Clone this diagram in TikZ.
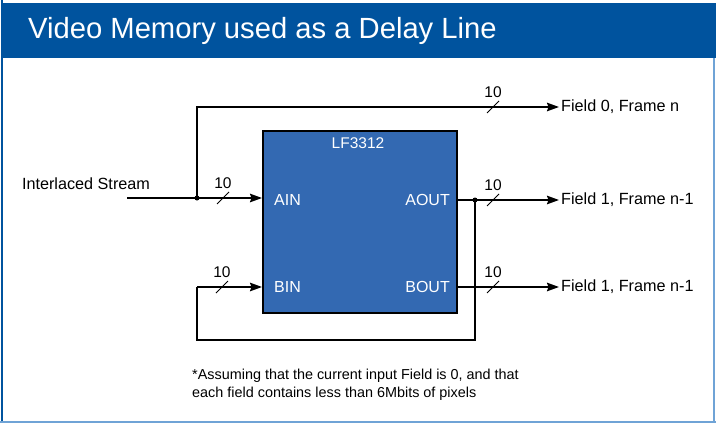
\documentclass[tikz,border=0pt]{standalone}
\usepackage{fontspec}
\setmainfont{Liberation Sans}
\usetikzlibrary{arrows.meta, positioning}

\definecolor{barblue}{RGB}{0,83,158}
\definecolor{chipblue}{RGB}{51,105,178}
\definecolor{edgeblue}{RGB}{111,163,214}

\begin{document}
\begin{tikzpicture}[
    x=1pt, y=-1pt,
    wire/.style={line width=1.8pt, line join=miter},
    bus/.style={wire, -{Stealth[length=12pt, width=8.5pt, inset=1.5pt]}},
    port/.style={text=white, font=\fontsize{16}{18}\selectfont, inner sep=0pt},
    lbl/.style={font=\fontsize{16.2}{18}\selectfont, inner sep=2pt},
    width/.style={font=\fontsize{15.5}{17}\selectfont, inner sep=0pt},
    junction/.style={circle, fill, inner sep=0pt, minimum size=5pt}
]
\useasboundingbox (0,0) rectangle (716,423);

% frame and title
\fill[barblue] (1,3) rectangle (716,58);
\draw[line width=2.5pt, barblue] (2,0) -- (2,423);
\draw[line width=1.5pt, edgeblue] (714,58) -- (714,423);
\draw[line width=2.5pt, edgeblue] (0,422) -- (716,422);
\node[anchor=west, text=white, font=\fontsize{29.2}{32}\selectfont, inner sep=0pt] (title) at (28,31) {Video Memory used as a Delay Line};

% memory chip
\node[draw, line width=2pt, fill=chipblue, minimum width=194pt, minimum height=182pt, inner sep=0pt] (chip) at (360,222) {};
\node[port, font=\fontsize{15.5}{17}\selectfont] (name) at (358,143) {LF3312};
\node[port, anchor=west] (ain) at (274,200) {AIN};
\node[port, anchor=east] (aout) at (450,200) {AOUT};
\node[port, anchor=west] (bin) at (274,287) {BIN};
\node[port, anchor=east] (bout) at (450,287) {BOUT};

% outside labels
\node[lbl] (src) at (86,184) {Interlaced Stream};
\node[lbl, anchor=west] (f0) at (559,107) {Field 0, Frame n};
\node[lbl, anchor=west] (f1a) at (559,200) {Field 1, Frame n-1};
\node[lbl, anchor=west] (f1b) at (559,287) {Field 1, Frame n-1};

\coordinate (in) at (127,198);
\coordinate (split) at (197,198);
\coordinate (tap) at (475,200);
\coordinate (loopr) at (475,340);
\coordinate (loopl) at (197,340);
\coordinate (feed) at (197,287);

\node[junction] (j1) at (split) {};
\node[junction] (j2) at (tap) {};

\draw[bus] (in) -- (split) -- (chip.west |- split);
\draw[bus] (split) -- (197,107) -- (f0.west);
\draw[bus] (chip.east |- tap) -- (f1a.west);
\draw[wire] (tap) -- (loopr) -- (loopl) -- (feed);
\draw[bus] (feed) -- (chip.west |- feed);
\draw[bus] (chip.east |- f1b) -- (f1b.west);

% bus widths
\foreach \x/\y [count=\i] in {223/198, 222/287, 493/107, 493/200, 493/287} {
    \draw[line width=0.8pt] (\x-6,\y+6) -- (\x+6,\y-6);
    \node[width] (w\i) at (\x,\y-15) {10};
}

% note
\node[font=\fontsize{14.4}{18}\selectfont, align=left, anchor=north west, inner sep=0pt] (note) at (192,369)
    {*Assuming that the current input Field is 0, and that\\each field contains less than 6Mbits of pixels};

\end{tikzpicture}
\end{document}
